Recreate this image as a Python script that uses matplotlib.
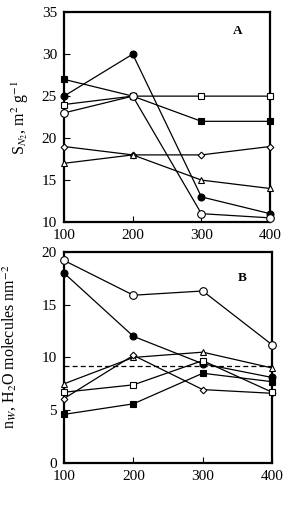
import matplotlib
matplotlib.use("Agg")
import matplotlib.pyplot as plt

plt.rcParams['font.family'] = ['Liberation Serif', 'DejaVu Serif']
plt.rcParams['mathtext.fontset'] = 'stix'

temps = [100, 200, 300, 400]

# panel A: surface area
a_fcircle = [25, 30, 13, 11]
a_fsquare = [27, 25, 22, 22]
a_osquare = [24, 25, 25, 25]
a_ocircle = [23, 25, 11, 10.5]
a_diamond = [19, 18, 18, 19]
a_triangle = [17, 18, 15, 14]

# panel B: water content
b_ocircle = [19.2, 15.9, 16.3, 11.2]
b_fcircle = [18, 12, 9.4, 8.1]
b_triangle = [7.5, 10.0, 10.5, 9.0]
b_diamond = [6.1, 10.2, 6.95, 6.6]
b_osquare = [6.7, 7.4, 9.7, 6.7]
b_fsquare = [4.6, 5.6, 8.5, 7.7]
b_ref = 9.2

styles = {
    'fcircle': dict(marker='o', mfc='black', ms=5),
    'fsquare': dict(marker='s', mfc='black', ms=5),
    'osquare': dict(marker='s', mfc='white', ms=5),
    'ocircle': dict(marker='o', mfc='white', ms=5.5),
    'diamond': dict(marker='D', mfc='white', ms=3.4),
    'triangle': dict(marker='^', mfc='white', ms=5),
}

fig = plt.figure(figsize=(2.89, 5.07), dpi=100)
axA = fig.add_axes([0.2215, 0.562, 0.713, 0.414])
axB = fig.add_axes([0.2215, 0.087, 0.72, 0.416])


def draw(ax, name, vals):
    ax.plot(temps, vals, color='black', lw=0.9, mec='black', mew=0.8,
            clip_on=False, zorder=3, **styles[name])


draw(axA, 'fcircle', a_fcircle)
draw(axA, 'fsquare', a_fsquare)
draw(axA, 'osquare', a_osquare)
draw(axA, 'ocircle', a_ocircle)
draw(axA, 'diamond', a_diamond)
draw(axA, 'triangle', a_triangle)

axB.plot([100, 400], [b_ref, b_ref], color='black', lw=0.9, ls=(0, (4, 2.5)))
draw(axB, 'ocircle', b_ocircle)
draw(axB, 'fcircle', b_fcircle)
draw(axB, 'triangle', b_triangle)
draw(axB, 'diamond', b_diamond)
draw(axB, 'osquare', b_osquare)
draw(axB, 'fsquare', b_fsquare)

for ax, ylim, yt in [(axA, (10, 35), range(10, 36, 5)), (axB, (0, 20), range(0, 21, 5))]:
    ax.set_xlim(100, 400)
    ax.set_ylim(*ylim)
    ax.set_xticks(temps)
    ax.set_yticks(list(yt))
    ax.tick_params(direction='in', length=4, width=0.8, labelsize=11, pad=5)
    for s in ax.spines.values():
        s.set_linewidth(1.6)

axA.text(353, 32.8, 'A', fontsize=9.5, fontweight='bold', ha='center', va='center')
axB.text(357, 17.5, 'B', fontsize=9.5, fontweight='bold', ha='center', va='center')

axA.set_ylabel('S$_{N_2}$, m$^2$ g$^{-1}$', fontsize=11.5, labelpad=8)
axB.set_ylabel('n$_W$, H$_2$O molecules nm$^{-2}$', fontsize=11.5, labelpad=8)
axB.yaxis.set_label_coords(-0.215, 0.55)

fig.savefig('out.png', dpi=100)
